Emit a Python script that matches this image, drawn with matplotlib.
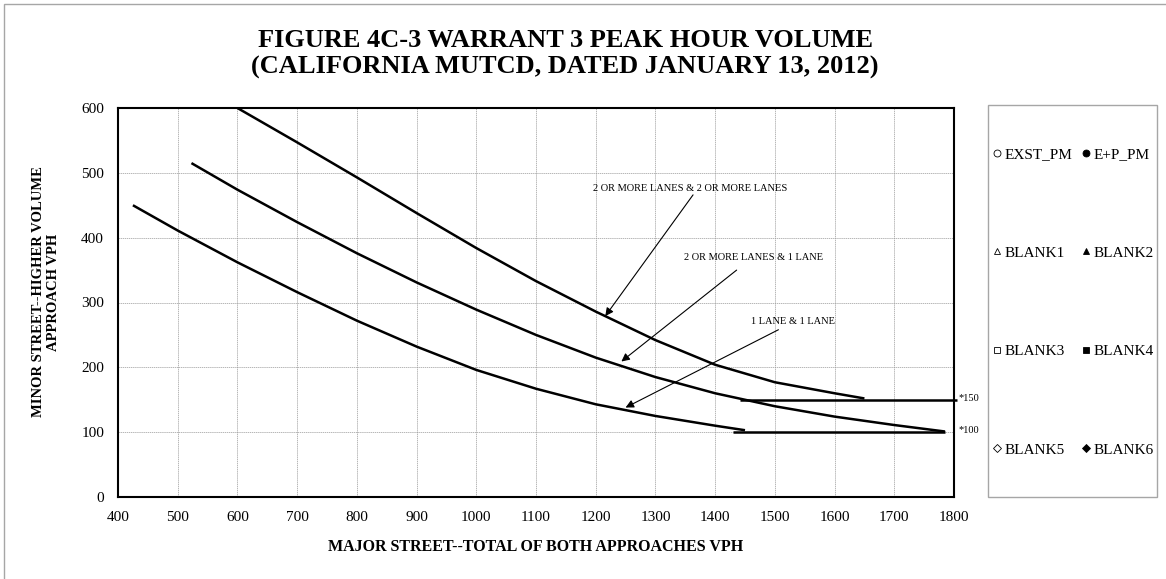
import matplotlib as mpl
mpl.use("Agg")
import matplotlib.pyplot as plt
from matplotlib.patches import Rectangle
from matplotlib.lines import Line2D

mpl.rcParams['font.family'] = ['Liberation Serif', 'DejaVu Serif']

W, H = 1166, 579

# warrant curves (major street vph vs minor street vph)
x_2l2l = [600, 700, 800, 900, 1000, 1100, 1200, 1300, 1400, 1500, 1600, 1650]
y_2l2l = [600, 547, 493, 438, 384, 333, 286, 242, 204, 177, 160, 152]

x_2l1l = [523, 600, 700, 800, 900, 1000, 1100, 1200, 1300, 1400, 1500, 1600, 1700, 1785]
y_2l1l = [515, 474, 424, 376, 331, 289, 250, 215, 185, 160, 140, 124, 111, 101]

x_1l1l = [425, 500, 600, 700, 800, 900, 1000, 1100, 1200, 1300, 1400, 1450]
y_1l1l = [450, 411, 362, 316, 272, 232, 196, 167, 143, 125, 110, 103]

# lower thresholds
floor_vals = [150, 100]
floor_x0 = [1442, 1430]
floor_x1 = [1805, 1785]
floor_text = ["*150", "*100"]

# curve callouts: label, text position, arrow tail, arrow tip
callout_text = ["2 OR MORE LANES & 2 OR MORE LANES", "2 OR MORE LANES & 1 LANE", "1 LANE & 1 LANE"]
callout_pos = [(1358, 476), (1465, 370), (1530, 270)]
callout_tail = [(1363, 466), (1436, 350), (1506, 258)]
callout_tip = [(1216, 279), (1243, 209), (1250, 138)]

# legend series (no data points plotted)
series_names = ["EXST_PM", "E+P_PM", "BLANK1", "BLANK2", "BLANK3", "BLANK4", "BLANK5", "BLANK6"]
series_markers = ["o", "o", "^", "^", "s", "s", "D", "D"]
series_filled = [False, True, False, True, False, True, False, True]

fig = plt.figure(figsize=(W / 100, H / 100), dpi=100)

# chart area border
fig.patches.append(Rectangle((4 / W, -0.1), 1.2, 1 - 4 / H + 0.1, transform=fig.transFigure,
                             fill=False, edgecolor='#a6a6a6', lw=1.0))

ax = fig.add_axes([118 / W, 1 - 497 / H, 836 / W, 389 / H])

for xs, ys in [(x_2l2l, y_2l2l), (x_2l1l, y_2l1l), (x_1l1l, y_1l1l)]:
    ax.plot(xs, ys, color='black', lw=1.8, solid_capstyle='butt', solid_joinstyle='round')

for v, a, b, t in zip(floor_vals, floor_x0, floor_x1, floor_text):
    ax.plot([a, b], [v, v], color='black', lw=1.8, clip_on=False, solid_capstyle='butt')
    ax.text(1808, v + 2, t, fontsize=7.5, ha='left', va='center')

for t, p, tail, tip in zip(callout_text, callout_pos, callout_tail, callout_tip):
    ax.text(p[0], p[1], t, fontsize=7.5, ha='center', va='center')
    ax.annotate('', xy=tip, xytext=tail,
                arrowprops=dict(arrowstyle='-|>', color='black', lw=0.8,
                                mutation_scale=12, shrinkA=0, shrinkB=0))

ax.set_xlim(400, 1800)
ax.set_ylim(0, 600)
ax.set_xticks(range(400, 1801, 100))
ax.set_yticks(range(0, 601, 100))
ax.tick_params(length=0, labelsize=11, pad=10)
ax.grid(True, color='#9a9a9a', lw=0.5, ls=(0, (2, 1)))
for s in ax.spines.values():
    s.set_linewidth(1.5)
    s.set_color('black')

ax.set_xlabel("MAJOR STREET--TOTAL OF BOTH APPROACHES VPH", fontsize=11.5, fontweight='bold')
ax.xaxis.set_label_coords(0.5, (497 - 547) / 389)
ax.xaxis.label.set_va('center')
ax.set_ylabel("MINOR STREET--HIGHER VOLUME\nAPPROACH VPH", fontsize=10.5, fontweight='bold',
              linespacing=1.2)
ax.yaxis.set_label_coords((46 - 118) / 836, (497 - 292) / 389)
ax.yaxis.label.set_va('center')

fig.text(565 / W, 1 - 54 / H, "FIGURE 4C-3 WARRANT 3 PEAK HOUR VOLUME\n(CALIFORNIA MUTCD, DATED JANUARY 13, 2012)",
         fontsize=19, fontweight='bold', ha='center', va='center', linespacing=1.25)

# legend box
fig.patches.append(Rectangle((988 / W, 1 - 497 / H), 169 / W, 392 / H, transform=fig.transFigure,
                             fill=False, edgecolor='#a6a6a6', lw=1.0))
handles = []
for m, f in zip(series_markers, series_filled):
    handles.append(Line2D([], [], ls='none', marker=m, ms=5 if m != 'D' else 4,
                          mfc='black' if f else 'white', mec='black', mew=0.6))
order = [0, 2, 4, 6, 1, 3, 5, 7]
fig.legend([handles[i] for i in order], [series_names[i] for i in order], ncol=2,
           loc='center', bbox_to_anchor=(1073 / W, 1 - 302 / H), frameon=False,
           fontsize=11, labelspacing=5.55, handlelength=0.6, handletextpad=0.2,
           columnspacing=0.6)

fig.savefig("out.png", dpi=100)
